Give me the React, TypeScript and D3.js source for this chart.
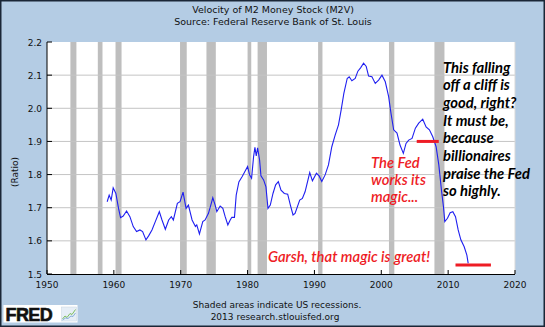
import React, { useEffect } from "react";
import * as d3 from "d3";

const years: number[] = [
  1959.0, 1959.3, 1959.6, 1959.9, 1960.3, 1960.7, 1961.0, 1961.4, 1961.9, 1962.4,
  1962.9, 1963.4, 1963.9, 1964.3, 1964.8, 1965.2, 1965.7, 1966.2, 1966.8, 1967.2,
  1967.7, 1968.2, 1968.6, 1968.9, 1969.5, 1969.9, 1970.35, 1970.8, 1971.15, 1971.7,
  1972.2, 1972.4, 1972.8, 1973.3, 1973.65, 1974.15, 1974.5, 1974.8, 1975.15, 1975.4,
  1975.9, 1976.3, 1976.65, 1977.05, 1977.4, 1977.65, 1978.04, 1978.3, 1978.7, 1979.2,
  1979.6, 1980.0, 1980.3, 1980.6, 1980.9, 1981.1, 1981.3, 1981.5, 1981.8, 1982.0,
  1982.4, 1982.75, 1983.05, 1983.4, 1983.8, 1984.2, 1984.6, 1985.0, 1985.5, 1986.0,
  1986.4, 1986.8, 1987.1, 1987.8, 1988.2, 1988.6, 1989.3, 1989.7, 1990.3, 1990.7,
  1991.1, 1991.6, 1992.1, 1992.6, 1993.1, 1993.6, 1994.0, 1994.4, 1994.9, 1995.2,
  1995.6, 1996.1, 1996.5, 1996.9, 1997.35, 1997.75, 1998.1, 1998.6, 1999.1, 1999.6,
  2000.1, 2000.6, 2001.1, 2001.45, 2001.85, 2002.35, 2002.8, 2003.3, 2003.7, 2004.1,
  2004.6, 2005.1, 2005.6, 2006.2, 2006.7, 2007.2, 2007.7, 2008.2, 2008.6, 2009.0,
  2009.3, 2009.5, 2009.9, 2010.3, 2010.7, 2011.1, 2011.5, 2011.9, 2012.4, 2012.8,
  2013.0,
];

const m2v: number[] = [
  1.718, 1.738, 1.723, 1.76, 1.743, 1.698, 1.67, 1.675, 1.69, 1.673,
  1.643, 1.628, 1.633, 1.628, 1.603, 1.615, 1.633, 1.658, 1.688, 1.663,
  1.635, 1.663, 1.673, 1.663, 1.713, 1.718, 1.747, 1.698, 1.708, 1.663,
  1.643, 1.648, 1.621, 1.658, 1.663, 1.683, 1.708, 1.73, 1.708, 1.688,
  1.705, 1.698, 1.673, 1.648, 1.663, 1.671, 1.671, 1.738, 1.778, 1.794,
  1.809, 1.824, 1.799, 1.789, 1.854, 1.882, 1.856, 1.881, 1.844, 1.796,
  1.784, 1.763, 1.698, 1.708, 1.743, 1.769, 1.779, 1.753, 1.743, 1.741,
  1.708, 1.678, 1.683, 1.723, 1.728, 1.748, 1.806, 1.781, 1.804, 1.796,
  1.779, 1.799, 1.829, 1.884, 1.919, 1.95, 1.995, 2.045, 2.09, 2.095,
  2.083, 2.09, 2.112, 2.122, 2.136, 2.126, 2.097, 2.095, 2.075, 2.085,
  2.1, 2.08, 2.035, 1.985, 1.935, 1.925, 1.889, 1.864, 1.894, 1.904,
  1.909, 1.94, 1.955, 1.967, 1.944, 1.935, 1.914, 1.884, 1.83, 1.753,
  1.703, 1.658, 1.668, 1.685, 1.688, 1.673, 1.633, 1.603, 1.582, 1.557,
  1.532,
];

const recessionStart: number[] = [1953.5, 1957.6, 1960.25, 1969.9, 1973.85, 1980.0, 1981.5, 1990.55, 2001.15, 2007.95];
const recessionEnd: number[] = [1954.4, 1958.3, 1961.15, 1970.9, 1975.25, 1980.55, 1982.9, 1991.2, 2001.95, 2009.45];

const yTicks: number[] = [1.5, 1.6, 1.7, 1.8, 1.9, 2.0, 2.1, 2.2];
const xTicks: number[] = [1950, 1960, 1970, 1980, 1990, 2000, 2010, 2020];

const redLineX1: number[] = [2005.3, 2011.1];
const redLineX2: number[] = [2008.6, 2016.4];
const redLineY: number[] = [1.9, 1.527];

const blackNote: string[] = [
  "This falling",
  "off a cliff is",
  "good, right?",
  "It must be,",
  "because",
  "billionaires",
  "praise the Fed",
  "so highly.",
];
const fedNote: string[] = ["The Fed", "works its", "magic..."];

const W = 545;
const H = 327;
const left = 47;
const right = 515;
const top = 42;
const bottom = 274;

export default function App() {
  useEffect(() => {
    document.body.style.margin = "0";
  }, []);

  const x = d3.scaleLinear().domain([1950, 2020]).range([left, right]);
  const y = d3.scaleLinear().domain([1.5, 2.2]).range([bottom, top]);
  const pts: [number, number][] = years.map((yr, i) => [yr, m2v[i]]);
  const line = d3
    .line<[number, number]>()
    .x((d) => x(d[0]))
    .y((d) => y(d[1]));

  const font = "'DejaVu Sans', Verdana, sans-serif";
  const noteFont = "Lato, 'Open Sans', sans-serif";

  return (
    <svg
      width={W}
      height={H}
      style={{ position: "absolute", left: 0, top: 0, display: "block" }}
    >
      <rect x={0} y={0} width={W} height={H} fill="#b4cce4" />
      <rect x={0.75} y={0.75} width={W - 1.5} height={H - 1.5} fill="none" stroke="#1a2636" strokeWidth={1.5} />

      <text x={273} y={13} textAnchor="middle" fontFamily={font} fontSize={9.5} fill="#111">
        Velocity of M2 Money Stock (M2V)
      </text>
      <text x={273} y={25} textAnchor="middle" fontFamily={font} fontSize={9.5} fill="#111">
        Source: Federal Reserve Bank of St. Louis
      </text>

      <rect x={left} y={top} width={right - left} height={bottom - top} fill="#ffffff" />

      {recessionStart.map((s, i) => (
        <rect
          key={"r" + i}
          x={x(s)}
          y={top}
          width={x(recessionEnd[i]) - x(s)}
          height={bottom - top}
          fill="#bebebe"
        />
      ))}

      {yTicks.slice(1, -1).map((t) => (
        <line key={"g" + t} x1={left} x2={right} y1={y(t)} y2={y(t)} stroke="#c4c4c4" strokeWidth={1} />
      ))}

      <path d={line(pts) || ""} fill="none" stroke="#1f1ff0" strokeWidth={1.1} />

      {redLineY.map((v, i) => (
        <line
          key={"red" + i}
          x1={x(redLineX1[i])}
          x2={x(redLineX2[i])}
          y1={y(v)}
          y2={y(v)}
          stroke="#ee1c25"
          strokeWidth={3}
        />
      ))}

      <line x1={left} x2={left} y1={top} y2={bottom} stroke="#000" strokeWidth={1} />
      <line x1={left} x2={right} y1={bottom + 0.5} y2={bottom + 0.5} stroke="#000" strokeWidth={1} />
      <line x1={right} x2={right} y1={top} y2={bottom} stroke="#d8d8d8" strokeWidth={1} />

      {yTicks.map((t) => (
        <g key={"yt" + t}>
          <line x1={left} x2={left + 5} y1={y(t)} y2={y(t)} stroke="#000" />
          <text
            x={left - 5}
            y={y(t) + 3.5}
            textAnchor="end"
            fontFamily={font}
            fontSize={9}
            fill="#111"
          >
            {t.toFixed(1)}
          </text>
        </g>
      ))}
      {xTicks.map((t) => (
        <g key={"xt" + t}>
          <line x1={x(t)} x2={x(t)} y1={bottom - 4} y2={bottom} stroke="#000" />
          <text x={x(t)} y={288} textAnchor="middle" fontFamily={font} fontSize={9} fill="#111">
            {t}
          </text>
        </g>
      ))}

      <text
        transform="translate(18,172) rotate(-90)"
        textAnchor="middle"
        fontFamily={font}
        fontSize={9}
        fill="#111"
      >
        (Ratio)
      </text>

      <text x={277} y={308} textAnchor="middle" fontFamily={font} fontSize={9} fill="#111">
        Shaded areas indicate US recessions.
      </text>
      <text x={275} y={320} textAnchor="middle" fontFamily={font} fontSize={9} fill="#111">
        2013 research.stlouisfed.org
      </text>

      <rect x={3.5} y={305} width={74} height={17.5} fill="#ffffff" />
      <text
        x={5.5}
        y={320.5}
        fontFamily="'Liberation Sans', Arial, sans-serif"
        fontWeight="900"
        fontSize={18}
        fill="#111"
        letterSpacing={-0.6}
        stroke="#111"
        strokeWidth={0.6}
      >
        FRED
      </text>
      <rect x={61.5} y={307} width={15} height={14} fill="#e6eef6" stroke="#c8d4e0" strokeWidth={0.5} />
      <polyline points="62.5,319 65,316 67,317.5 70,313.5 72,314.5 75.5,309.5" fill="none" stroke="#7fbf5f" strokeWidth={1} />
      <polyline points="62.5,320 65.5,318 68,318.5 71,316 73,316.5 75.5,313" fill="none" stroke="#6fa0d0" strokeWidth={0.8} />

      {fedNote.map((s, i) => (
        <text
          key={"fn" + i}
          x={371}
          y={168 + i * 17}
          fontFamily={noteFont}
          fontStyle="italic"
          fontWeight="600"
          fontSize={14.8}
          fill="#ee1c25"
        >
          {s}
        </text>
      ))}
      <text
        x={268}
        y={262}
        fontFamily={noteFont}
        fontStyle="italic"
        fontWeight="600"
        fontSize={14.8}
        fill="#ee1c25"
      >
        Garsh, that magic is great!
      </text>

      {blackNote.map((s, i) => (
        <text
          key={"bn" + i}
          x={443}
          y={72.5 + i * 17.7}
          fontFamily={noteFont}
          fontStyle="italic"
          fontWeight="bold"
          fontSize={14.8}
          fill="#000"
        >
          {s}
        </text>
      ))}
    </svg>
  );
}
